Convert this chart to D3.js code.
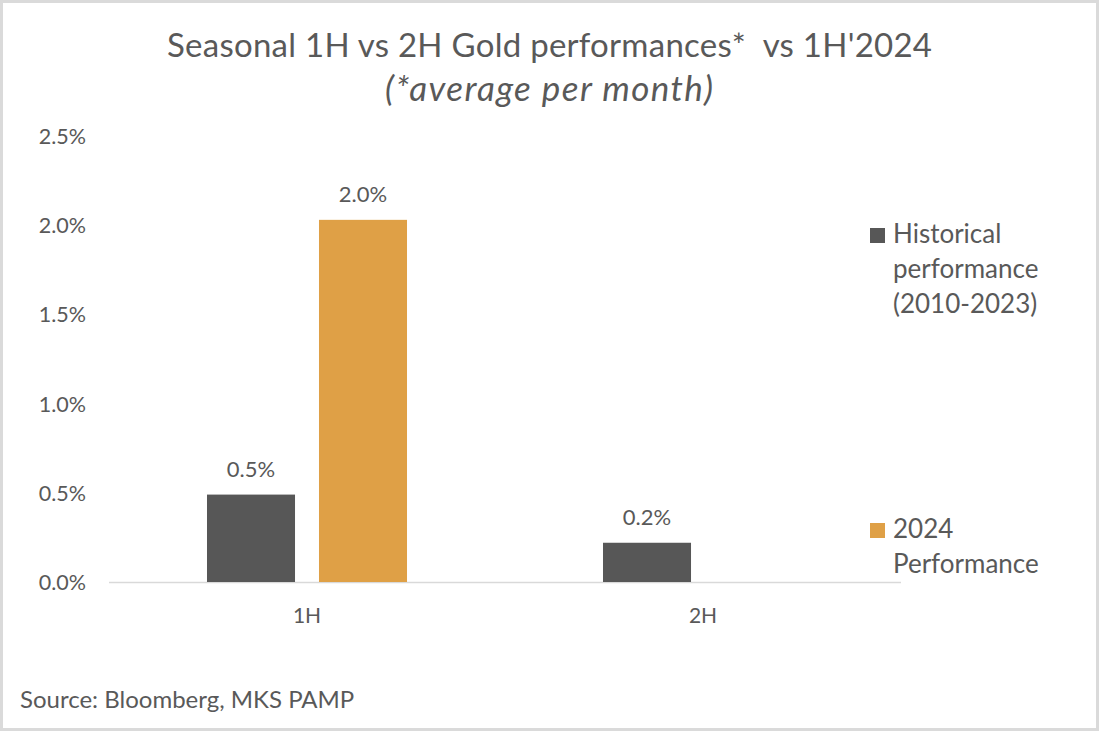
<!DOCTYPE html>
<html><head><meta charset="utf-8">
<script src="https://cdn.jsdelivr.net/npm/d3@7"></script>
<style>
html,body{margin:0;padding:0;background:#fff;}
svg{display:block;font-family:Lato, "Open Sans", sans-serif;}
</style></head>
<body>
<svg id="c" width="1100" height="732"></svg>
<script>
const categories = ["1H", "2H"];
const seriesNames = ["Historical performance (2010-2023)", "2024 Performance"];
const historical = [0.49, 0.22];
const perf2024 = [2.03, null];
const valueLabels = [["0.5%", "0.2%"], ["2.0%", null]];
const yTicks = [0, 0.5, 1.0, 1.5, 2.0, 2.5];
const legendLines = [["Historical", "performance", "(2010-2023)"], ["2024", "Performance"]];
const colors = ["#575757", "#dfa046"];

const svg = d3.select("#c");
const W = 1100, H = 732;
svg.append("rect").attr("x",1.5).attr("y",1.5).attr("width",W-4).attr("height",H-4)
  .attr("fill","#fff").attr("stroke","#dadada").attr("stroke-width",3);

const x0 = d3.scaleBand().domain(categories).range([109, 901]);
const y = d3.scaleLinear().domain([0, 2.5]).range([582, 136]);
const x1 = d3.scaleBand().domain([0,1]).range([0, x0.bandwidth()]).paddingInner(0.214).paddingOuter(0.875);

// title
svg.append("text").attr("x",549.5).attr("y",57).attr("text-anchor","middle")
  .attr("font-size",33).attr("fill","#595959").attr("xml:space","preserve")
  .attr("textLength",765).attr("lengthAdjust","spacing")
  .text("Seasonal 1H vs 2H Gold performances*  vs 1H'2024");
svg.append("text").attr("x",549).attr("y",101).attr("text-anchor","middle")
  .attr("font-size",35).attr("font-style","italic").attr("fill","#595959")
  .attr("textLength",328).attr("lengthAdjust","spacing")
  .text("(*average per month)");

// y axis labels
svg.append("g").selectAll("text").data(yTicks).join("text")
  .attr("x",86).attr("y",d=>y(d)+8).attr("text-anchor","end")
  .attr("font-size",21.5).attr("fill","#595959")
  .text(d=>d3.format(".1f")(d)+"%");

// baseline
svg.append("line").attr("x1",109).attr("x2",901).attr("y1",y(0)+0.5).attr("y2",y(0)+0.5)
  .attr("stroke","#d9d9d9").attr("stroke-width",1.5);

const series = [historical, perf2024];
series.forEach((vals, si) => {
  const g = svg.append("g");
  const data = categories.map((c,i)=>({c, v: vals[i], lab: valueLabels[si][i]})).filter(d=>d.v!=null);
  g.selectAll("rect").data(data).join("rect")
    .attr("x", d=>x0(d.c)+x1(si)).attr("width", x1.bandwidth())
    .attr("y", d=>y(d.v)).attr("height", d=>y(0)-y(d.v))
    .attr("fill", colors[si]);
  g.selectAll("text").data(data).join("text")
    .attr("x", d=>x0(d.c)+x1(si)+x1.bandwidth()/2).attr("y", d=>y(d.v)-18)
    .attr("text-anchor","middle").attr("font-size",22).attr("fill","#595959")
    .text(d=>d.lab);
});

// x labels
svg.append("g").selectAll("text").data(categories).join("text")
  .attr("x", d=>x0(d)+x0.bandwidth()/2).attr("y", 623)
  .attr("text-anchor","middle").attr("font-size",21).attr("fill","#595959")
  .text(d=>d);

// legend
const legBase = [243, 538];
legendLines.forEach((lines, i) => {
  svg.append("rect").attr("x",870).attr("y",legBase[i]-15).attr("width",15).attr("height",15)
    .attr("fill",colors[i]);
  const t = svg.append("text").attr("font-size",26).attr("fill","#595959");
  lines.forEach((l,j)=>{
    t.append("tspan").attr("x",893).attr("y",legBase[i]+j*35).text(l);
  });
});

// source
svg.append("text").attr("x",20).attr("y",708).attr("font-size",24).attr("fill","#595959")
  .text("Source: Bloomberg, MKS PAMP");
</script>
</body></html>
